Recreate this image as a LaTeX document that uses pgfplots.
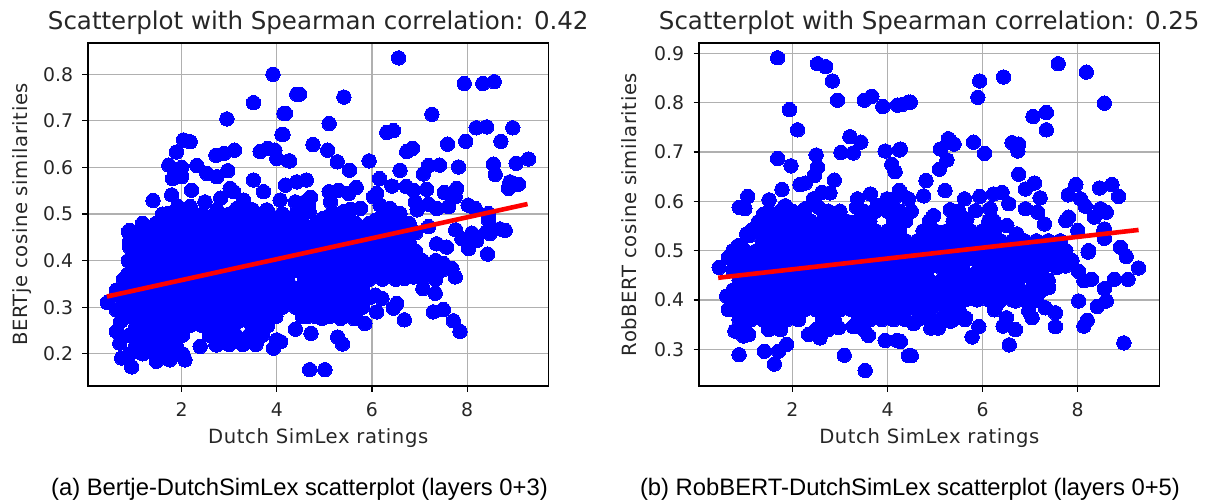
\documentclass[border=0pt]{standalone}
\usepackage{pgfplots}
\usepackage{fontspec}
\setmainfont{DejaVu Sans}
\newfontfamily\capfont{Liberation Sans}
\newfontfamily\lblfont[LetterSpace=3]{DejaVu Sans}
\pgfplotsset{compat=1.18}
\pgfplotstableread{
x y
3.92 .80
3.51 .739
2.95 .704
4.15 .716
4.42 .757
4.11 .671
2.04 .659
2.18 .655
1.89 .633
1.73 .605
2.0 .600
2.32 .604
2.53 .587
1.81 .576
2.0 .58
2.74 .58
2.97 .593
2.72 .626
2.89 .63
3.11 .637
3.65 .634
3.81 .641
3.96 .637
4.0 .619
4.25 .614
3.51 .573
3.02 .555
2.21 .551
1.79 .541
1.40 .529
2.82 .534
2.49 .526
3.09 .548
3.30 .53
3.72 .548
4.07 .53
4.18 .562
4.42 .569
4.39 .526
3.79 .509
3.16 .512
3.49 .509
1.92 .516
2.18 .516
1.72 .501
2.74 .509
.88 .462
1.16 .466
1.51 .48
6.56 .835
7.94 .78
8.33 .78
8.57 .784
7.26 .714
4.48 .757
5.41 .751
4.18 .716
5.10 .694
6.31 .675
6.45 .679
8.19 .685
8.41 .687
8.96 .685
4.13 .671
4.76 .649
5.07 .637
7.59 .65
7.97 .656
8.71 .656
6.73 .634
6.85 .641
5.27 .612
4.27 .614
5.94 .614
5.53 .594
6.59 .594
7.19 .604
7.42 .605
7.82 .601
8.55 .607
9.03 .609
9.29 .618
7.08 .586
8.59 .585
6.16 .576
4.62 .573
6.42 .56
6.72 .559
6.87 .551
7.15 .553
7.78 .555
7.52 .546
8.9 .569
9.08 .564
8.87 .555
5.67 .557
5.3 .551
5.1 .548
5.51 .544
4.71 .536
4.59 .526
6.1 .544
6.03 .537
4.67 .516
5.13 .526
7.75 .537
6.91 .526
7.19 .521
7.61 .516
6.95 .509
7.36 .512
8.02 .519
8.17 .512
8.45 .501
8.45 .487
8.69 .468
8.41 .462
8.1 .459
7.76 .466
7.19 .473
5.55 .51
5.76 .512
6.17 .519
6.38 .512
6.59 .501
5.15 .501
4.51 .487
5.55 .469
4.85 .466
5.19 .466
6.07 .487
8.43 .414
8.03 .426
7.89 .447
8.2 .443
8.48 .458
8.8 .465
7.57 .429
7.36 .436
7.68 .383
7.75 .365
7.33 .33
7.07 .34
7.33 .372
7.5 .295
7.29 .29
7.71 .271
7.85 .248
6.68 .273
6.52 .308
6.45 .298
6.21 .319
6.1 .29
6.07 .326
5.85 .265
5.62 .276
5.34 .276
5.28 .236
5.38 .221
4.72 .244
4.39 .253
4.95 .276
4.64 .28
4.69 .166
5.01 .166
4.08 .226
6.68 .362
6.87 .365
7.01 .386
7.5 .394
.44 .31
.63 .337
.63 .248
.74 .191
.95 .172
.70 .223
1.19 .201
1.47 .184
1.75 .187
2.07 .187
2.39 .216
2.74 .219
3.02 .23
3.30 .23
3.58 .226
3.93 .212
4.0 .23
.91 .429
.88 .372
.74 .294
.63 .294
.91 .465
.72 .27
.72 .32
.78 .36
.8 .30
.88 .40
.85 .34
4.3 .345
4.5 .34
4.22 .36
4.58 .36
4.38 .46
4.68 .46
4.53 .44
4.53 .48
4.68 .505
4.96 .49
5.26 .487
5.54 .487
5.4 .47
5.4 .505
6.17 .49
6.45 .49
6.31 .473
6.31 .508
6.46 .443
6.74 .443
6.6 .425
6.6 .462
6.46 .383
6.74 .383
6.6 .365
6.6 .40
3.2 .27
3.45 .265
3.8 .26
.9 .20
1.18 .20
1.46 .20
1.74 .20
2.02 .20
1.04 .22
1.32 .22
1.6 .22
1.88 .22
2.72 .22
3 .22
3.28 .22
3.56 .22
.9 .24
1.18 .24
1.46 .24
1.74 .24
2.02 .24
2.58 .24
2.86 .24
3.14 .24
3.42 .24
3.7 .24
1.04 .26
1.32 .26
1.6 .26
1.88 .26
2.16 .26
2.44 .26
2.72 .26
3 .26
3.56 .26
.9 .28
1.18 .28
1.46 .28
1.74 .28
2.02 .28
2.3 .28
2.58 .28
2.86 .28
3.14 .28
3.42 .28
3.7 .28
3.98 .28
4.54 .28
4.82 .28
5.1 .28
5.38 .28
5.66 .28
1.04 .30
1.32 .30
1.6 .30
1.88 .30
2.16 .30
2.44 .30
2.72 .30
3 .30
3.28 .30
3.56 .30
3.84 .30
4.12 .30
4.4 .30
4.68 .30
4.96 .30
5.24 .30
5.52 .30
5.8 .30
.9 .32
1.18 .32
1.46 .32
1.74 .32
2.02 .32
2.3 .32
2.58 .32
2.86 .32
3.14 .32
3.42 .32
3.7 .32
3.98 .32
4.26 .32
4.54 .32
4.82 .32
5.1 .32
5.38 .32
5.66 .32
5.94 .32
1.04 .34
1.32 .34
1.6 .34
1.88 .34
2.16 .34
2.44 .34
2.72 .34
3 .34
3.28 .34
3.56 .34
3.84 .34
4.12 .34
4.68 .34
4.96 .34
5.24 .34
5.52 .34
5.8 .34
.9 .36
1.18 .36
1.46 .36
1.74 .36
2.02 .36
2.3 .36
2.58 .36
2.86 .36
3.14 .36
3.42 .36
3.7 .36
3.98 .36
4.82 .36
5.1 .36
5.38 .36
5.66 .36
5.94 .36
6.22 .36
6.5 .36
7.06 .36
7.34 .36
1.04 .38
1.32 .38
1.6 .38
1.88 .38
2.16 .38
2.44 .38
2.72 .38
3 .38
3.28 .38
3.56 .38
3.84 .38
4.12 .38
4.4 .38
4.68 .38
4.96 .38
5.24 .38
5.52 .38
5.8 .38
6.08 .38
6.36 .38
6.92 .38
7.2 .38
7.48 .38
.9 .40
1.18 .40
1.46 .40
1.74 .40
2.02 .40
2.3 .40
2.58 .40
2.86 .40
3.14 .40
3.42 .40
3.7 .40
3.98 .40
4.26 .40
4.54 .40
4.82 .40
5.1 .40
5.38 .40
5.66 .40
5.94 .40
6.22 .40
6.5 .40
6.78 .40
7.06 .40
7.34 .40
1.04 .42
1.32 .42
1.6 .42
1.88 .42
2.16 .42
2.44 .42
2.72 .42
3 .42
3.28 .42
3.56 .42
3.84 .42
4.12 .42
4.4 .42
4.68 .42
4.96 .42
5.24 .42
5.52 .42
5.8 .42
6.08 .42
6.36 .42
6.64 .42
6.92 .42
.9 .44
1.18 .44
1.46 .44
1.74 .44
2.02 .44
2.3 .44
2.58 .44
2.86 .44
3.14 .44
3.42 .44
3.7 .44
3.98 .44
4.26 .44
4.82 .44
5.1 .44
5.38 .44
5.66 .44
5.94 .44
6.22 .44
6.78 .44
1.04 .46
1.32 .46
1.6 .46
1.88 .46
2.16 .46
2.44 .46
2.72 .46
3 .46
3.28 .46
3.56 .46
3.84 .46
4.12 .46
4.96 .46
5.24 .46
5.52 .46
5.8 .46
6.08 .46
6.36 .46
6.64 .46
6.92 .46
1.18 .48
1.46 .48
1.74 .48
2.02 .48
2.3 .48
2.58 .48
2.86 .48
3.14 .48
3.42 .48
3.7 .48
3.98 .48
4.26 .48
4.82 .48
5.1 .48
5.66 .48
5.94 .48
6.5 .48
6.78 .48
1.6 .50
1.88 .50
2.16 .50
2.44 .50
2.72 .50
3 .50
3.28 .50
3.56 .50
3.84 .50
4.12 .50
4.4 .50
5.24 .50
}\leftpts
\pgfplotstableread{
x y
1.69 .891
2.53 .879
2.7 .873
2.84 .844
2.95 .805
1.94 .786
2.11 .745
3.51 .805
3.67 .813
3.9 .792
4.21 .795
4.44 .801
3.21 .731
3.44 .72
3.02 .699
3.28 .698
3.95 .702
4.25 .704
2.5 .694
1.69 .687
1.97 .672
4.09 .675
4.16 .66
2.53 .669
2.46 .652
2.88 .643
2.16 .634
2.27 .637
1.78 .624
2.79 .617
2.62 .618
4.25 .622
1.06 .61
1.51 .603
3.64 .615
3.37 .605
2.44 .605
.88 .588
1.0 .585
1.85 .591
3.99 .605
4.13 .605
4.44 .605
3.78 .591
2.55 .588
2.27 .585
1.39 .574
3.0 .578
3.35 .588
1.28 .558
1.14 .541
1.11 .531
.93 .507
7.59 .879
8.18 .862
6.44 .852
5.94 .844
5.9 .811
8.56 .799
4.48 .801
4.3 .796
7.06 .772
7.34 .78
7.34 .745
5.28 .727
5.81 .72
5.11 .706
5.4 .716
4.27 .706
6.62 .719
6.76 .716
6.74 .702
6.04 .697
5.25 .684
5.09 .665
6.76 .655
4.81 .642
5.21 .622
7.09 .637
6.9 .625
7.96 .634
8.46 .627
8.72 .634
8.86 .61
7.8 .613
7.21 .607
6.41 .618
6.23 .615
5.94 .61
5.62 .605
4.76 .611
4.27 .618
8.06 .605
8.16 .59
6.55 .595
6.9 .585
7.16 .578
8.48 .585
8.6 .578
8.35 .568
7.81 .568
7.75 .561
7.3 .554
5.32 .583
5.85 .581
6.16 .585
8.56 .544
8.0 .541
8.56 .525
8.9 .507
8.23 .5
6.51 .551
6.72 .534
6.23 .561
5.67 .564
4.97 .571
8.22 .497
9.02 .488
9.28 .465
9.06 .442
8.77 .442
8.56 .423
8.55 .541
8.02 .458
8.13 .439
8.29 .442
8.02 .398
8.6 .398
8.41 .387
8.2 .359
8.13 .347
8.97 .313
7.56 .466
7.74 .469
7.39 .425
7.53 .374
7.32 .384
7.53 .346
7.04 .364
6.97 .378
6.69 .34
6.43 .347
6.5 .364
6.56 .309
5.78 .325
5.92 .346
5.64 .364
5.07 .343
4.91 .343
5.32 .357
4.55 .352
4.27 .316
4.5 .287
6.3 .391
6.69 .398
6.83 .415
7.18 .415
.46 .466
.65 .486
.88 .289
1.41 .296
1.62 .27
1.71 .296
1.88 .31
3.09 .288
3.53 .257
3.95 .318
4.2 .318
4.44 .287
3.6 .328
3.28 .346
2.58 .323
2.34 .33
2.97 .344
.97 .327
.79 .337
1.08 .33
.65 .381
.62 .408
.86 .51
1.04 .534
4.88 .466
5.12 .466
5.62 .456
5.88 .456
6.34 .44
6.48 .458
6.76 .442
7.04 .442
4.46 .384
4.95 .384
1 .34
1.5 .34
1.75 .34
2.5 .34
2.75 .34
3.5 .34
.88 .36
1.13 .36
1.38 .36
1.63 .36
1.88 .36
2.13 .36
2.63 .36
2.88 .36
3.38 .36
3.63 .36
3.88 .36
4.13 .36
4.38 .36
4.63 .36
4.88 .36
5.13 .36
5.38 .36
5.63 .36
.75 .38
1 .38
1.25 .38
1.5 .38
1.75 .38
2 .38
2.25 .38
2.5 .38
2.75 .38
3 .38
3.25 .38
3.5 .38
3.75 .38
4 .38
4.25 .38
4.75 .38
5.25 .38
5.5 .38
6.25 .38
.88 .40
1.13 .40
1.38 .40
1.63 .40
1.88 .40
2.13 .40
2.38 .40
2.63 .40
2.88 .40
3.13 .40
3.38 .40
3.63 .40
3.88 .40
4.13 .40
4.38 .40
4.63 .40
4.88 .40
5.13 .40
5.38 .40
5.63 .40
5.88 .40
6.13 .40
6.38 .40
6.63 .40
6.88 .40
7.13 .40
.75 .42
1 .42
1.25 .42
1.5 .42
1.75 .42
2 .42
2.25 .42
2.5 .42
2.75 .42
3 .42
3.25 .42
3.5 .42
3.75 .42
4 .42
4.25 .42
4.5 .42
4.75 .42
5 .42
5.25 .42
5.5 .42
5.75 .42
6 .42
6.25 .42
6.5 .42
6.75 .42
7 .42
7.25 .42
.88 .44
1.13 .44
1.38 .44
1.63 .44
1.88 .44
2.13 .44
2.38 .44
2.63 .44
2.88 .44
3.13 .44
3.38 .44
3.63 .44
3.88 .44
4.13 .44
4.38 .44
4.63 .44
4.88 .44
5.13 .44
5.38 .44
5.63 .44
5.88 .44
6.13 .44
6.63 .44
7.13 .44
7.38 .44
.75 .46
1 .46
1.25 .46
1.5 .46
1.75 .46
2 .46
2.25 .46
2.5 .46
2.75 .46
3 .46
3.25 .46
3.5 .46
3.75 .46
4 .46
4.25 .46
4.5 .46
4.75 .46
5.25 .46
5.5 .46
6 .46
6.25 .46
6.75 .46
7 .46
7.25 .46
.88 .48
1.13 .48
1.38 .48
1.63 .48
1.88 .48
2.13 .48
2.38 .48
2.63 .48
2.88 .48
3.13 .48
3.38 .48
3.63 .48
3.88 .48
4.13 .48
4.38 .48
4.63 .48
4.88 .48
5.13 .48
5.38 .48
5.63 .48
5.88 .48
6.13 .48
6.38 .48
6.63 .48
6.88 .48
7.13 .48
7.38 .48
7.63 .48
7.88 .48
.75 .50
1 .50
1.25 .50
1.5 .50
1.75 .50
2 .50
2.25 .50
2.5 .50
2.75 .50
3 .50
3.25 .50
3.5 .50
3.75 .50
4 .50
4.25 .50
4.5 .50
4.75 .50
5 .50
5.25 .50
5.5 .50
5.75 .50
6 .50
6.25 .50
6.5 .50
6.75 .50
7 .50
7.25 .50
7.5 .50
7.75 .50
1.38 .52
1.63 .52
1.88 .52
2.13 .52
2.38 .52
2.63 .52
2.88 .52
3.13 .52
3.38 .52
3.63 .52
3.88 .52
4.13 .52
4.38 .52
4.63 .52
4.88 .52
5.13 .52
5.38 .52
5.63 .52
5.88 .52
6.13 .52
6.38 .52
6.63 .52
6.88 .52
7.13 .52
7.38 .52
7.63 .52
1.25 .54
1.5 .54
1.75 .54
2 .54
2.25 .54
2.5 .54
2.75 .54
3 .54
3.25 .54
3.5 .54
3.75 .54
4 .54
4.25 .54
4.75 .54
5 .54
5.25 .54
5.5 .54
5.75 .54
6 .54
6.25 .54
1.38 .56
1.63 .56
1.88 .56
2.13 .56
2.38 .56
2.63 .56
2.88 .56
3.13 .56
3.38 .56
3.63 .56
4.13 .56
4.38 .56
4.88 .56
5.38 .56
5.63 .56
6.13 .56
1.5 .58
1.75 .58
2 .58
2.25 .58
2.75 .58
3 .58
3.5 .58
3.75 .58
4 .58
4.25 .58
4.5 .58
5.5 .58
}\rightpts
\definecolor{gridc}{HTML}{B0B0B0}
\pgfplotsset{
  common/.style={
    anchor=south west, scale only axis,
    width=460.5pt, height=343pt,
    clip mode=individual,
    grid=major, grid style={gridc, line width=1.2pt},
    axis line style={black, line width=1.2pt},
    tick align=outside, major tick length=5.5pt,
    every tick/.style={black, line width=1.1pt},
    xtick pos=bottom, ytick pos=left,
    xtick={2,4,6,8},
    ticklabel style={font=\fontsize{18.8}{20}\selectfont, text=black!85, /pgf/number format/assume math mode=true},
    xticklabel style={yshift=-8pt},
    yticklabel style={xshift=-6pt, /pgf/number format/.cd, fixed, fixed zerofill, precision=1, assume math mode=true},
    label style={font=\lblfont\fontsize{19.6}{22}\selectfont, text=black!85},
    title style={font=\fontsize{24.5}{28}\selectfont, text=black!85, yshift=-1pt},
    xlabel={Dutch SimLex ratings},
    xlabel style={yshift=-4pt},
    ylabel style={yshift=10pt},
  },
  dots/.style={only marks, mark=*, mark size=7.2pt, mark options={draw=blue, fill=blue, line width=0pt}},
  fit/.style={red, line width=4.6pt, no marks},
}
\begin{document}
\begin{tikzpicture}[x=1pt,y=1pt]
\path[use as bounding box] (0,0) rectangle (1208,499);
\begin{axis}[common, at={(88pt,113pt)},
  xmin=0.032, xmax=9.71, ymin=0.131, ymax=0.867,
  ytick={0.2,0.3,0.4,0.5,0.6,0.7,0.8},
  title={Scatterplot with Spearman correlation: 0.42},
  ylabel style={yshift=-5pt},
  ylabel={BERTje cosine similarities}]
\addplot[dots] table[x=x,y=y] {\leftpts};
\addplot[fit] coordinates {(0.43,0.323)(9.27,0.5215)};
\end{axis}
\begin{axis}[common, at={(699pt,113pt)},
  xmin=0.036, xmax=9.72, ymin=0.2256, ymax=0.921,
  ytick={0.3,0.4,0.5,0.6,0.7,0.8,0.9},
  title={Scatterplot with Spearman correlation: 0.25},
  ylabel={RobBERT cosine similarities}]
\addplot[dots] table[x=x,y=y] {\rightpts};
\addplot[fit] coordinates {(0.44,0.445)(9.28,0.542)};
\end{axis}
\node[anchor=base, font=\capfont\fontsize{23.8}{26}\selectfont] at (299.5,4) {(a) Bertje-DutchSimLex scatterplot (layers 0+3)};
\node[anchor=base, font=\capfont\fontsize{23.8}{26}\selectfont] at (910,4) {(b) RobBERT-DutchSimLex scatterplot (layers 0+5)};
\end{tikzpicture}
\end{document}
